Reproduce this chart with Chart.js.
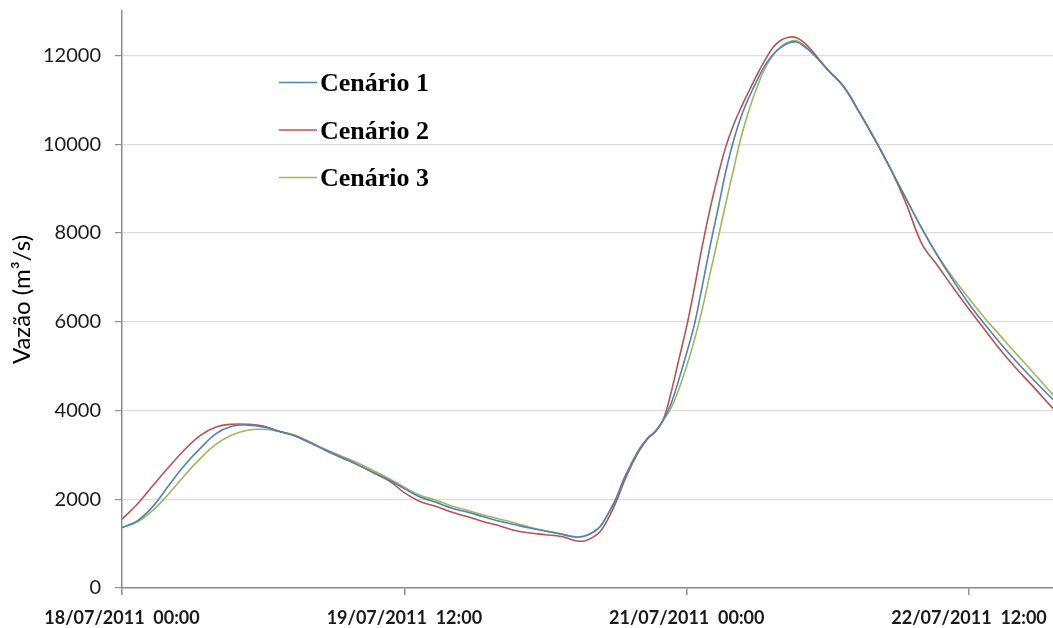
<!DOCTYPE html>
<html>
<head>
<meta charset="utf-8">
<script src="https://cdn.jsdelivr.net/npm/chart.js@4/dist/chart.umd.min.js"></script>
<style>
  html, body { margin: 0; padding: 0; background: #fff; }
  #wrap { width: 1053px; height: 628px; }
</style>
</head>
<body>
<div id="wrap"><canvas id="vazaoChart" width="1053" height="628"></canvas></div>
<script>
// hours since 18/07/2011 00:00
const hours = [
    0, 2, 4, 6, 8, 10, 12, 14, 16, 18, 20, 22, 24, 26, 28, 30, 32, 34, 36, 38, 40, 42, 44, 46, 48, 50, 52, 54, 56,
    57, 58, 59, 60, 61, 62, 63, 64, 65, 66, 67, 68, 69, 70, 71, 72, 73, 74, 75, 76, 77, 78, 79, 80, 81, 82, 83, 84, 85, 86, 87, 88, 89, 90,
    92, 94, 96, 98, 100, 102, 104, 106, 108, 110, 112, 114, 116, 118, 120
];

const cenario1 = [
    1360, 1520, 1850, 2320, 2770, 3150, 3480, 3645, 3670, 3630, 3530, 3430, 3270, 3100, 2940, 2780, 2610, 2440, 2240, 2050, 1930, 1800, 1710, 1610, 1510, 1430, 1350, 1280, 1210,
    1170, 1145, 1170, 1250, 1390, 1680, 2020, 2460, 2820, 3140, 3370, 3530, 3780, 4150, 4700, 5300, 5950, 6820, 7720, 8550, 9400, 10100, 10650, 11080, 11450, 11780, 12020, 12180, 12280, 12300, 12200, 12050, 11870, 11670,
    11300, 10720, 10100, 9440, 8760, 8090, 7480, 6920, 6400, 5940, 5510, 5110, 4730, 4370, 4030
];
const cenario2 = [
    1550, 1900, 2320, 2730, 3120, 3440, 3630, 3690, 3690, 3650, 3530, 3430, 3270, 3100, 2940, 2780, 2600, 2420, 2150, 1950, 1840, 1710, 1610, 1500, 1410, 1300, 1240, 1200, 1160,
    1110, 1060, 1060, 1140, 1280, 1570, 1940, 2390, 2780, 3110, 3360, 3520, 3790, 4400, 5150, 5900, 6780, 7720, 8560, 9300, 9950, 10450, 10850, 11220, 11580, 11900, 12180, 12340, 12410, 12400, 12280, 12100, 11880, 11670,
    11300, 10720, 10100, 9440, 8650, 7750, 7260, 6760, 6280, 5820, 5360, 4950, 4570, 4180, 3790
];
const cenario3 = [
    1360, 1490, 1760, 2130, 2540, 2920, 3240, 3445, 3555, 3575, 3530, 3445, 3290, 3120, 2970, 2820, 2650, 2470, 2270, 2090, 1980, 1850, 1750, 1650, 1560, 1470, 1370, 1290, 1220,
    1180, 1150, 1170, 1250, 1390, 1680, 2020, 2460, 2820, 3140, 3370, 3530, 3780, 4050, 4480, 5000, 5600, 6300, 7100, 7880, 8680, 9450, 10200, 10800, 11300, 11720, 12000, 12200, 12300, 12330, 12220, 12060, 11870, 11670,
    11300, 10720, 10100, 9440, 8760, 8100, 7490, 6980, 6520, 6080, 5680, 5280, 4890, 4490, 4100
];

const seriesNames = ['Cenário 1', 'Cenário 2', 'Cenário 3'];
const seriesColors = ['#4f81bd', '#c0504d', '#9bbb59'];

const xTickHours = [0, 36, 72, 108];
const xTickLabels = ['18/07/2011  00:00', '19/07/2011  12:00', '21/07/2011  00:00', '22/07/2011  12:00'];
const yTicks = [0, 2000, 4000, 6000, 8000, 10000, 12000];

const toPoints = vals => hours.map((h, i) => ({ x: h, y: vals[i] }));

// legend drawn inside the plot, like the original
const insideLegend = {
    id: 'insideLegend',
    afterDraw(chart) {
        const ctx = chart.ctx;
        ctx.save();
        ctx.font = 'bold 26px "Liberation Serif", "Times New Roman", serif';
        ctx.fillStyle = '#000';
        ctx.textBaseline = 'alphabetic';
        chart.data.datasets.forEach((ds, i) => {
            const y = 82.5 + i * 47.5;
            ctx.strokeStyle = ds.borderColor;
            ctx.lineWidth = 1.5;
            ctx.beginPath();
            ctx.moveTo(279, y);
            ctx.lineTo(317, y);
            ctx.stroke();
            ctx.fillText(ds.label, 320, y + 8.5);
        });
        ctx.restore();
    }
};

new Chart(document.getElementById('vazaoChart'), {
    type: 'line',
    data: {
        datasets: [cenario1, cenario2, cenario3].map((vals, i) => ({
            label: seriesNames[i],
            data: toPoints(vals),
            borderColor: seriesColors[i],
            backgroundColor: seriesColors[i],
            borderWidth: 1.6,
            pointRadius: 0,
            tension: 0.4,
            fill: false
        }))
    },
    options: {
        responsive: false,
        animation: false,
        layout: { padding: { top: 11, right: 0, left: 0, bottom: 0 } },
        plugins: { legend: { display: false }, tooltip: { enabled: false } },
        scales: {
            x: {
                type: 'linear',
                min: 0,
                max: 118.7,
                afterBuildTicks: s => { s.ticks = xTickHours.map(v => ({ value: v })); },
                afterFit: s => { s.height = 40; s.paddingLeft = 0; s.paddingRight = 0; },
                border: { color: '#8c8c8c', width: 1.5 },
                grid: { drawOnChartArea: false, tickColor: '#8c8c8c', tickLength: 7, lineWidth: 1.5 },
                ticks: {
                    autoSkip: false,
                    maxRotation: 0,
                    padding: 12,
                    color: '#1a1a1a',
                    font: { family: 'Lato', size: 18, weight: 'bold' },
                    callback: v => xTickLabels[xTickHours.indexOf(v)]
                }
            },
            y: {
                min: 0,
                max: 13000,
                afterBuildTicks: s => { s.ticks = yTicks.map(v => ({ value: v })); },
                afterFit: s => { s.width = 122; s.paddingTop = 0; s.paddingBottom = 0; },
                border: { color: '#8c8c8c', width: 1.5 },
                grid: { color: '#dcdcdc', lineWidth: 1.2, tickColor: '#8c8c8c', tickLength: 7 },
                ticks: {
                    padding: 14,
                    color: '#1a1a1a',
                    font: { family: 'Lato', size: 20 },
                    callback: v => String(v)
                },
                title: {
                    display: true,
                    text: 'Vazão (m³/s)',
                    color: '#000',
                    font: { family: 'Lato', size: 24 },
                    padding: { top: 8, bottom: 0 }
                }
            }
        }
    },
    plugins: [insideLegend]
});
</script>
</body>
</html>
